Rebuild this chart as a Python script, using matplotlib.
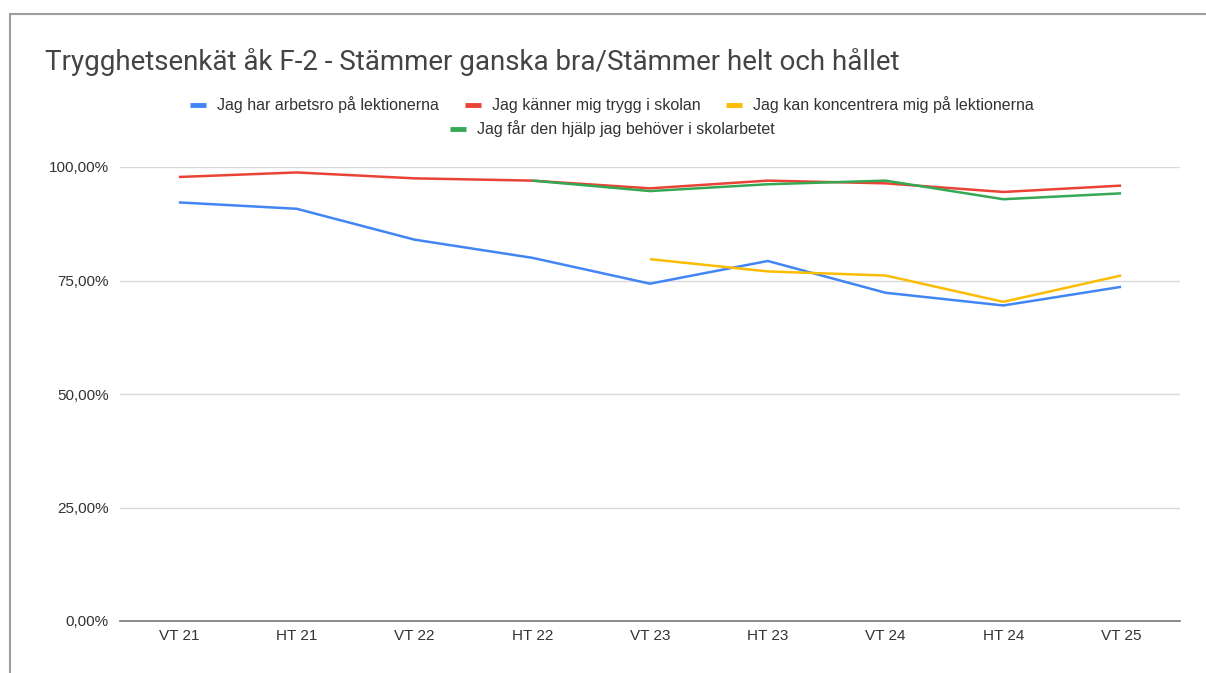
import numpy as np
import matplotlib.pyplot as plt
from matplotlib.lines import Line2D
from matplotlib.ticker import FuncFormatter

# Terminer
categories = ["VT 21", "HT 21", "VT 22", "HT 22", "VT 23", "HT 23", "VT 24", "HT 24", "VT 25"]

# Andel (%) som svarat "Stämmer ganska bra/Stämmer helt och hållet"
arbetsro = [92.2, 90.8, 84.0, 80.0, 74.3, 79.3, 72.3, 69.5, 73.6]
trygg = [97.8, 98.8, 97.5, 97.0, 95.3, 97.0, 96.4, 94.5, 95.9]
koncentrera = [np.nan, np.nan, np.nan, np.nan, 79.7, 77.0, 76.1, 70.3, 76.1]
hjalp = [np.nan, np.nan, np.nan, 97.0, 94.7, 96.2, 97.0, 92.9, 94.2]

labels = [
    "Jag har arbetsro på lektionerna",
    "Jag känner mig trygg i skolan",
    "Jag kan koncentrera mig på lektionerna",
    "Jag får den hjälp jag behöver i skolarbetet",
]
colors = ["#4285F4", "#EA4335", "#FBBC04", "#34A853"]

plt.rcParams['font.family'] = ['Liberation Sans', 'DejaVu Sans']

fig = plt.figure(figsize=(12.06, 6.73), dpi=100)
ax = fig.add_axes([120 / 1206, 52 / 673, 1060 / 1206, 454 / 673])

x = np.arange(len(categories))
handles = []
for vals, lab, col in zip([arbetsro, trygg, koncentrera, hjalp], labels, colors):
    y = np.array(vals, dtype=float) / 100
    ax.plot(x, y, color=col, lw=1.8, clip_on=False, solid_capstyle='butt')
    handles.append(Line2D([0], [0], color=col, lw=3.5, solid_capstyle='butt'))

ax.set_xlim(-0.5, len(categories) - 0.5)
ax.set_ylim(0, 1.0)
ax.set_xticks(x)
ax.set_xticklabels(categories)
ax.set_yticks([0, 0.25, 0.5, 0.75, 1.0])
ax.yaxis.set_major_formatter(FuncFormatter(lambda v, p: f"{v * 100:.2f}%".replace(".", ",")))
ax.tick_params(axis='both', length=0, labelsize=11, colors='#333333')
ax.tick_params(axis='y', pad=8)
ax.tick_params(axis='x', pad=6)
ax.grid(axis='y', color='#d9d9d9', lw=1)
ax.set_axisbelow(True)
for s in ['top', 'right', 'left']:
    ax.spines[s].set_visible(False)
ax.spines['bottom'].set_color('#777777')
ax.spines['bottom'].set_linewidth(1.2)

# title
fig.text(45 / 1206, 1 - 62 / 673, "Trygghetsenkät åk F-2 - Stämmer ganska bra/Stämmer helt och hållet",
         fontsize=20, color='#444444', va='center', ha='left', family=['Roboto', 'DejaVu Sans'])

# legend, two centered rows
fig.legend(handles[:3], labels[:3], ncol=3, loc='center', bbox_to_anchor=(612 / 1206, 1 - 105 / 673),
           frameon=False, fontsize=11.5, handlelength=1.0, handletextpad=0.7, columnspacing=1.6,
           labelcolor='#333333')
fig.legend(handles[3:], labels[3:], ncol=1, loc='center', bbox_to_anchor=(612 / 1206, 1 - 129 / 673),
           frameon=False, fontsize=11.5, handlelength=1.0, handletextpad=0.7, labelcolor='#333333')

# spreadsheet frame from the screenshot
fig.add_artist(Line2D([10 / 1206, 1], [1 - 14 / 673, 1 - 14 / 673], color='#9e9e9e', lw=1.5))
fig.add_artist(Line2D([10 / 1206, 10 / 1206], [0, 1 - 14 / 673], color='#9e9e9e', lw=1.5))

fig.savefig("out.png", dpi=100)
